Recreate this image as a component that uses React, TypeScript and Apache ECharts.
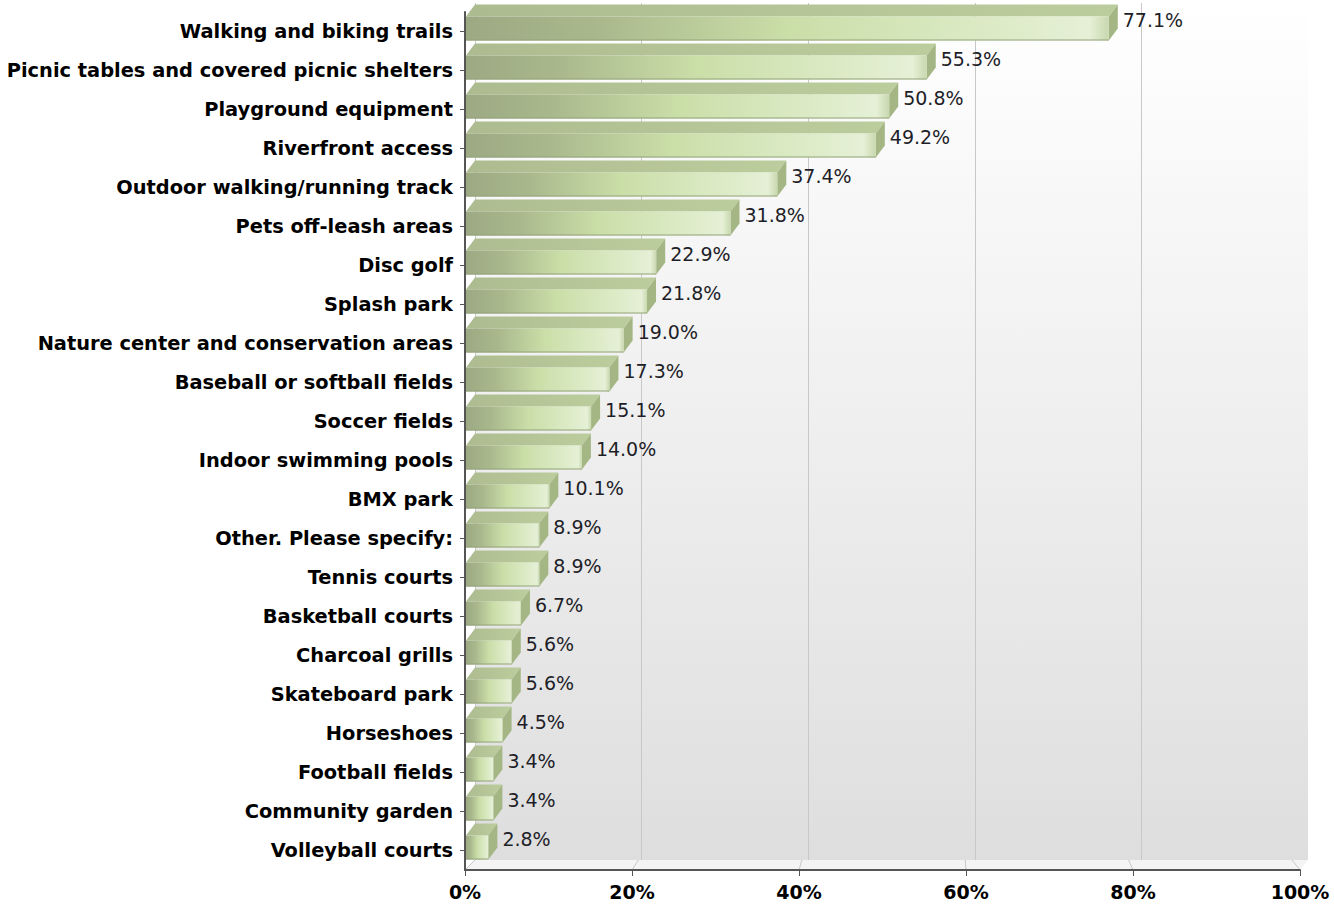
import React, { useEffect, useRef } from "react";
import * as echarts from "echarts";

const categories: string[] = [
  "Walking and biking trails",
  "Picnic tables and covered picnic shelters",
  "Playground equipment",
  "Riverfront access",
  "Outdoor walking/running track",
  "Pets off-leash areas",
  "Disc golf",
  "Splash park",
  "Nature center and conservation areas",
  "Baseball or softball fields",
  "Soccer fields",
  "Indoor swimming pools",
  "BMX park",
  "Other. Please specify:",
  "Tennis courts",
  "Basketball courts",
  "Charcoal grills",
  "Skateboard park",
  "Horseshoes",
  "Football fields",
  "Community garden",
  "Volleyball courts",
];

const values: number[] = [
  77.1, 55.3, 50.8, 49.2, 37.4, 31.8, 22.9, 21.8, 19.0, 17.3, 15.1, 14.0, 10.1,
  8.9, 8.9, 6.7, 5.6, 5.6, 4.5, 3.4, 3.4, 2.8,
];

const xTicks: number[] = [0, 20, 40, 60, 80, 100];

const W = 1334;
const H = 906;
const PL = 465;
const PR = 1300;
const PT = 12;
const PB = 870;
const DEPTH = 10;

export default function App() {
  const ref = useRef<HTMLDivElement>(null);

  useEffect(() => {
    if (!ref.current) return;
    const chart = echarts.init(ref.current, undefined, { renderer: "svg" });

    const floorLines = xTicks.map((t) => {
      const xf = PL + ((PR - PL) * t) / 100;
      const xb = PL + DEPTH + ((PR - 8 - PL - DEPTH) * t) / 100;
      return {
        type: "line",
        z: 1,
        shape: { x1: xf, y1: PB, x2: xb, y2: PB - DEPTH },
        style: { stroke: "#c8c8c8", lineWidth: 1 },
      };
    });

    const renderItem = (params: any, api: any) => {
      const v = api.value(0);
      const idx = api.value(1);
      const p1 = api.coord([v, idx]);
      const p0 = api.coord([0, idx]);
      const x0 = p0[0] + 1;
      const x1 = p1[0];
      const c = p1[1];
      const fT = c - 15;
      const fB = c + 9;
      const dx = 9;
      const dy = 12;
      return {
        type: "group",
        children: [
          {
            type: "polygon",
            shape: {
              points: [
                [x0, fT],
                [x0 + dx, fT - dy],
                [x1 + dx, fT - dy],
                [x1, fT],
              ],
            },
            style: {
              fill: new echarts.graphic.LinearGradient(0, 0, 1, 0, [
                { offset: 0, color: "#adbc90" },
                { offset: 1, color: "#bccd9d" },
              ]),
            },
          },
          {
            type: "polygon",
            shape: {
              points: [
                [x1, fT],
                [x1 + dx, fT - dy],
                [x1 + dx, fB - dy],
                [x1, fB],
              ],
            },
            style: { fill: "#a4b684" },
          },
          {
            type: "rect",
            shape: { x: x0, y: fT, width: Math.max(0, x1 - x0), height: fB - fT },
            style: {
              fill: new echarts.graphic.LinearGradient(0, 0, 1, 0, [
                { offset: 0, color: "#9ca983" },
                { offset: 0.2, color: "#a9b88c" },
                { offset: 0.5, color: "#cadea8" },
                { offset: 0.8, color: "#dbeac4" },
                { offset: 0.97, color: "#e5f0d6" },
                { offset: 1, color: "#c8d8ae" },
              ]),
            },
          },
          {
            type: "line",
            shape: { x1: x0, y1: fB - 0.5, x2: x1, y2: fB - 0.5 },
            style: { stroke: "#94a37c", lineWidth: 1 },
          },
          {
            type: "text",
            style: {
              text: v.toFixed(1) + "%",
              x: x1 + 14,
              y: c - 12,
              verticalAlign: "middle",
              align: "left",
              fontSize: 19,
              fontFamily: "DejaVu Sans",
              fill: "#1e1e28",
            },
          },
        ],
      };
    };

    chart.setOption({
      animation: false,
      backgroundColor: "#ffffff",
      grid: [
        {
          left: PL,
          right: W - PR,
          top: PT,
          bottom: H - PB,
          containLabel: false,
          z: 3,
        },
        {
          left: PL + DEPTH,
          right: W - PR - 8,
          top: PT - 9,
          bottom: H - PB + DEPTH,
          show: true,
          borderWidth: 0,
          z: 0,
          backgroundColor: new echarts.graphic.LinearGradient(0, 0, 0, 1, [
            { offset: 0, color: "#ffffff" },
            { offset: 1, color: "#dedede" },
          ]),
        },
      ],
      xAxis: [
        {
          type: "value",
          gridIndex: 0,
          min: 0,
          max: 100,
          interval: 20,
          axisLine: { show: true, lineStyle: { color: "#555", width: 2 } },
          axisTick: { show: true, length: 6, lineStyle: { color: "#555", width: 1 } },
          splitLine: { show: false },
          axisLabel: {
            formatter: "{value}%",
            fontFamily: "DejaVu Sans",
            fontWeight: "bold",
            fontSize: 19,
            color: "#000",
            margin: 12,
          },
          z: 5,
        },
        {
          type: "value",
          gridIndex: 1,
          min: 0,
          max: 100,
          interval: 20,
          axisLine: { show: false },
          axisTick: { show: false },
          axisLabel: { show: false },
          splitLine: {
            show: true,
            showMaxLine: false,
            lineStyle: { color: "#c8c8c8", width: 1 },
          },
        },
      ],
      yAxis: [
        {
          type: "category",
          gridIndex: 0,
          data: categories,
          inverse: true,
          axisLine: { show: true, lineStyle: { color: "#555", width: 2 } },
          axisTick: { show: true, alignWithLabel: true, length: 5, lineStyle: { color: "#555" } },
          axisLabel: {
            fontFamily: "DejaVu Sans",
            fontWeight: "bold",
            fontSize: 19.4,
            color: "#000",
            margin: 12,
          },
          splitLine: { show: false },
          z: 5,
        },
        {
          type: "category",
          gridIndex: 1,
          data: categories,
          inverse: true,
          show: false,
        },
      ],
      graphic: [
        {
          type: "polygon",
          z: 0,
          shape: {
            points: [
              [PL, PB],
              [PL + DEPTH, PB - DEPTH],
              [PR + 8, PB - DEPTH],
              [PR, PB],
            ],
          },
          style: { fill: "#f4f4f4" },
        },
        ...floorLines,
      ],
      series: [
        {
          type: "custom",
          xAxisIndex: 0,
          yAxisIndex: 0,
          z: 4,
          renderItem,
          data: values.map((v, i) => [v, i]),
        },
      ],
    });

    return () => chart.dispose();
  }, []);

  return (
    <div
      ref={ref}
      style={{ position: "absolute", left: 0, top: 0, width: W, height: H }}
    />
  );
}
